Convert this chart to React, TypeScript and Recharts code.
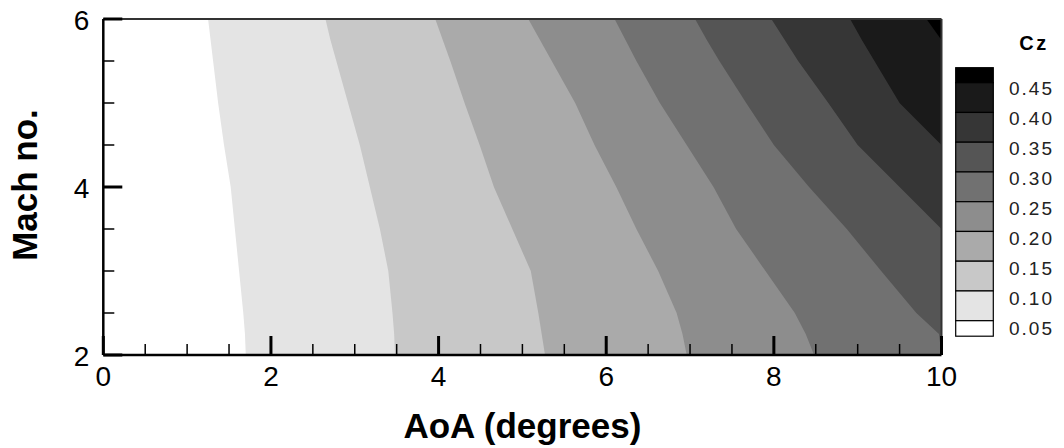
import React from 'react';
import {
  ComposedChart,
  Area,
  XAxis,
  YAxis,
  CartesianGrid,
  ReferenceLine,
  Legend,
} from 'recharts';

// Mach numbers (rows) at which each Cz contour position (AoA, degrees) was read
const machValues = [6, 5.75, 5.5, 5, 4.5, 4, 3.5, 3, 2.5, 2.25, 2];
// AoA position of each Cz iso-level at the Mach values above (clamped to 10 where the line leaves the plot)
const cz005 = [1.25, 1.28, 1.31, 1.37, 1.44, 1.52, 1.57, 1.62, 1.67, 1.69, 1.7];
const cz010 = [2.65, 2.71, 2.78, 2.92, 3.06, 3.18, 3.3, 3.4, 3.45, 3.47, 3.48];
const cz015 = [3.96, 4.05, 4.14, 4.31, 4.49, 4.66, 4.88, 5.1, 5.19, 5.23, 5.27];
const cz020 = [5.07, 5.21, 5.35, 5.63, 5.86, 6.12, 6.36, 6.62, 6.84, 6.91, 6.96];
const cz025 = [6.1, 6.23, 6.36, 6.64, 6.96, 7.28, 7.55, 7.9, 8.25, 8.38, 8.48];
const cz030 = [7.06, 7.2, 7.35, 7.67, 8.0, 8.42, 8.87, 9.28, 9.7, 9.97, 10];
const cz035 = [7.97, 8.13, 8.29, 8.65, 9.0, 9.5, 10, 10, 10, 10, 10];
const cz040 = [8.91, 9.05, 9.2, 9.5, 10, 10, 10, 10, 10, 10, 10];
const cz045 = [9.82, 10, 10, 10, 10, 10, 10, 10, 10, 10, 10];

const levelLabels = ['0.05', '0.10', '0.15', '0.20', '0.25', '0.30', '0.35', '0.40', '0.45'];
// band colours from lowest (< 0.05) to highest (> 0.45)
const bandColors = ['#ffffff', '#e4e4e4', '#c8c8c8', '#aaaaaa', '#8d8d8d', '#717171', '#555555', '#363636', '#1a1a1a', '#000000'];

const xTicks = [0, 0.5, 1, 1.5, 2, 2.5, 3, 3.5, 4, 4.5, 5, 5.5, 6, 6.5, 7, 7.5, 8, 8.5, 9, 9.5, 10];
const yTicks = [2, 2.5, 3, 3.5, 4, 4.5, 5, 5.5, 6];
const xLabelTicks = [0, 2, 4, 6, 8, 10];
const yLabelTicks = [2, 4, 6];

const lines = [cz005, cz010, cz015, cz020, cz025, cz030, cz035, cz040, cz045];
const lineKeys = ['l05', 'l10', 'l15', 'l20', 'l25', 'l30', 'l35', 'l40', 'l45'];

const data = machValues.map((m, i) => {
  const row: Record<string, number> = { mach: m };
  lines.forEach((arr, k) => {
    row[lineKeys[k]] = arr[i];
  });
  return row;
});

const FONT = '"Liberation Sans", Arial, Helvetica, sans-serif';

const XTick = (props: any) => {
  const { x, y, payload } = props;
  const v = payload.value;
  const major = xLabelTicks.includes(v);
  return (
    <g>
      <line x1={x} x2={x} y1={y} y2={y - (major ? 19 : 11)} stroke="#000" strokeWidth={major ? 3 : 1.5} />
      {major && (
        <text x={x} y={y + 21} textAnchor="middle" dominantBaseline="central" fontSize={28} fontFamily={FONT} fill="#000">
          {String(v)}
        </text>
      )}
    </g>
  );
};

const YTick = (props: any) => {
  const { x, y, payload } = props;
  const v = payload.value;
  const major = yLabelTicks.includes(v);
  return (
    <g>
      <line x1={x} x2={x + (major ? 19 : 11)} y1={y} y2={y} stroke="#000" strokeWidth={major ? 3 : 1.5} />
      {major && (
        <text x={x - 14} y={y + 1.5} textAnchor="end" dominantBaseline="central" fontSize={28} fontFamily={FONT} fill="#000">
          {String(v)}
        </text>
      )}
    </g>
  );
};

const XTitle = (props: any) => {
  const vb = props.viewBox || { x: 103, y: 355, width: 838, height: 1 };
  return (
    <text x={vb.x + vb.width / 2} y={vb.y + 83} textAnchor="middle" fontSize={35} fontWeight="bold" fontFamily={FONT} fill="#000">
      AoA (degrees)
    </text>
  );
};

const YTitle = (props: any) => {
  const vb = props.viewBox || { x: 102, y: 19, width: 1, height: 336 };
  const cx = 37;
  const cy = vb.y + vb.height / 2 - 2;
  return (
    <text x={cx} y={cy} transform={`rotate(-90 ${cx} ${cy})`} textAnchor="middle" fontSize={35} fontWeight="bold" fontFamily={FONT} fill="#000">
      Mach no.
    </text>
  );
};

const ColorBar = () => {
  const boxX = 10.7;
  const boxW = 37.6;
  const top = 37.7;
  const half = 15;
  const step = 29.75;
  // from top (highest) to bottom (lowest)
  const rev = [...bandColors].reverse();
  const rects = rev.map((c, i) => {
    let y: number;
    let h: number;
    if (i === 0) {
      y = top;
      h = half;
    } else if (i === rev.length - 1) {
      y = top + half + step * (rev.length - 2);
      h = half + 0.5;
    } else {
      y = top + half + step * (i - 1);
      h = step;
    }
    return <rect key={i} x={boxX} y={y} width={boxW} height={h} fill={c} stroke="#000" strokeWidth={1.2} />;
  });
  const labels = [...levelLabels].reverse().map((t, i) => (
    <text key={t} x={64} y={58.3 + 30 * i} dominantBaseline="central" fontSize={19} letterSpacing={2} fontFamily={FONT} fill="#222">
      {t}
    </text>
  ));
  return (
    <svg width={119} height={320} style={{ display: 'block' }}>
      <text x={89} y={13} textAnchor="middle" dominantBaseline="central" fontSize={20} fontWeight="bold" letterSpacing={2.5} fontFamily={FONT} fill="#000">
        Cz
      </text>
      {rects}
      {labels}
    </svg>
  );
};

export default function App() {
  const areaOrder = [8, 7, 6, 5, 4, 3, 2, 1, 0];
  return (
    <div style={{ position: 'absolute', left: 0, top: 0, width: 1064, height: 448, background: '#fff' }}>
      <ComposedChart
        width={1064}
        height={448}
        data={data}
        layout="vertical"
        margin={{ top: 19, right: 122.5, bottom: 92, left: 102.3 }}
      >
        <CartesianGrid fill="#000000" horizontal={false} vertical={false} stroke="none" />
        {areaOrder.map((k) => (
          <Area
            key={lineKeys[k]}
            dataKey={lineKeys[k]}
            type="linear"
            fill={bandColors[k]}
            fillOpacity={1}
            stroke="none"
            isAnimationActive={false}
            dot={false}
            activeDot={false}
          />
        ))}
        <ReferenceLine y={6} stroke="#333" strokeWidth={2} />
        <ReferenceLine x={10} stroke="#333" strokeWidth={2} />
        <XAxis
          type="number"
          domain={[0, 10]}
          ticks={xTicks}
          interval={0}
          allowDataOverflow
          height={1}
          tickSize={0}
          tickMargin={0}
          tickLine={false}
          axisLine={{ stroke: '#000', strokeWidth: 2.5 }}
          tick={<XTick />}
          label={<XTitle />}
        />
        <YAxis
          type="number"
          dataKey="mach"
          domain={[2, 6]}
          ticks={yTicks}
          interval={0}
          reversed
          allowDataOverflow
          width={1}
          tickSize={0}
          tickMargin={0}
          tickLine={false}
          axisLine={{ stroke: '#000', strokeWidth: 2.5 }}
          tick={<YTick />}
          label={<YTitle />}
        />
        <Legend
          layout="horizontal"
          verticalAlign="middle"
          align="center"
          content={() => <ColorBar />}
          wrapperStyle={{ position: 'absolute', left: 945, top: 30, width: 119, height: 320 }}
        />
      </ComposedChart>
    </div>
  );
}
